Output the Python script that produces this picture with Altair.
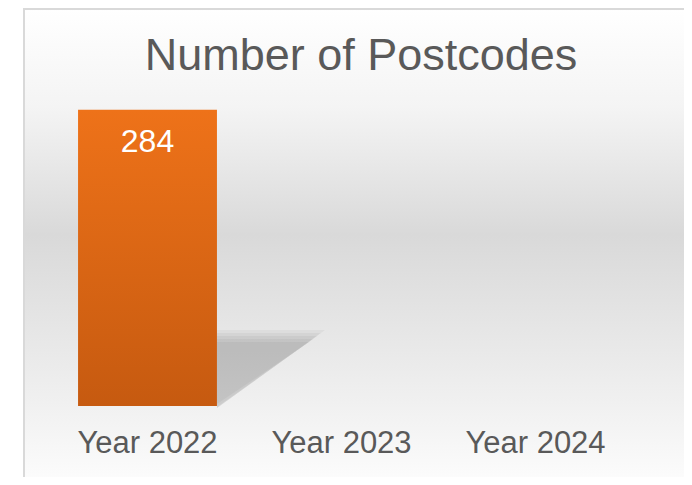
import altair as alt
import pandas as pd

# ---- data ----
categories = ["Year 2022", "Year 2023", "Year 2024"]
values = [284, None, None]
title_text = "Number of Postcodes"

df = pd.DataFrame({"year": categories, "value": values})

FONT = "Liberation Sans"
GREY_TEXT = "#595959"

x_enc = alt.X("year:N", sort=categories, title=None,
              scale=alt.Scale(paddingInner=0.284, paddingOuter=0.142),
              axis=alt.Axis(labelAngle=0, labelFontSize=31, labelFont=FONT,
                            labelColor=GREY_TEXT, ticks=False, domain=False,
                            grid=False, labelPadding=46, zindex=2,
                            labelBaseline="alphabetic"))
y_scale = alt.Scale(domain=[0, 300], nice=False, zero=True)

# background panel (decoration) with vertical gradient + thin border
bg = alt.Chart(pd.DataFrame({"k": [0]})).mark_rect(
    fill=alt.Gradient(
        gradient="linear", x1=0, x2=0, y1=0, y2=1,
        stops=[alt.GradientStop(color="#ffffff", offset=0),
               alt.GradientStop(color="#f4f4f4", offset=0.2),
               alt.GradientStop(color="#d9d9d9", offset=0.46),
               alt.GradientStop(color="#f0f0f0", offset=0.8),
               alt.GradientStop(color="#ffffff", offset=1)]),
    stroke="#d9d9d9", strokeWidth=2,
).encode(x=alt.value(-26.5), x2=alt.value(690), y=alt.value(-84), y2=alt.value(407))

base = alt.Chart(df)

# soft perspective shadow at the foot of each non-empty bar
def shadow(k):
    top = -66 - k
    tip = 164.5 + 1.3 * k
    bot = min(2, k)
    path = f"M69.5,{top}L{tip},{top}L69.5,{bot}Z"
    return base.transform_filter(
        "isValid(datum.value) && datum.value > 0"
    ).transform_calculate(foot="0").mark_point(
        shape=path, size=4, filled=True, fill="#000000", opacity=0.04, strokeWidth=0
    ).encode(x=x_enc, y=alt.Y("foot:Q", scale=y_scale, axis=None, title=None))

shadows = [shadow(k) for k in (10, 7, 4, 1, -2)]

bars = base.mark_bar(
    fill=alt.Gradient(
        gradient="linear", x1=0, x2=0, y1=0, y2=1,
        stops=[alt.GradientStop(color="#EE7219", offset=0),
               alt.GradientStop(color="#C65A10", offset=1)]),
).encode(
    x=x_enc,
    y=alt.Y("value:Q", scale=y_scale, axis=None, title=None),
)

labels = base.mark_text(
    color="white", fontSize=32, font=FONT, baseline="alphabetic", dy=42
).encode(
    x=x_enc,
    y=alt.Y("value:Q", scale=y_scale),
    text=alt.Text("value:Q"),
)

chart = alt.layer(bg, *shadows, bars, labels).properties(
    width=582, height=313,
    title=alt.TitleParams(title_text, fontSize=45, font=FONT, color=GREY_TEXT,
                          fontWeight="normal", anchor="middle", frame="group",
                          baseline="alphabetic", dx=19.5, offset=-107),
    autosize=alt.AutoSizeParams(type="none"),
    padding={"left": 42.5, "top": 85, "right": 51.5, "bottom": 71},
).configure_view(stroke=None).configure(background="white")

chart.save("out.html", embed_options={"renderer": "svg", "actions": False})
